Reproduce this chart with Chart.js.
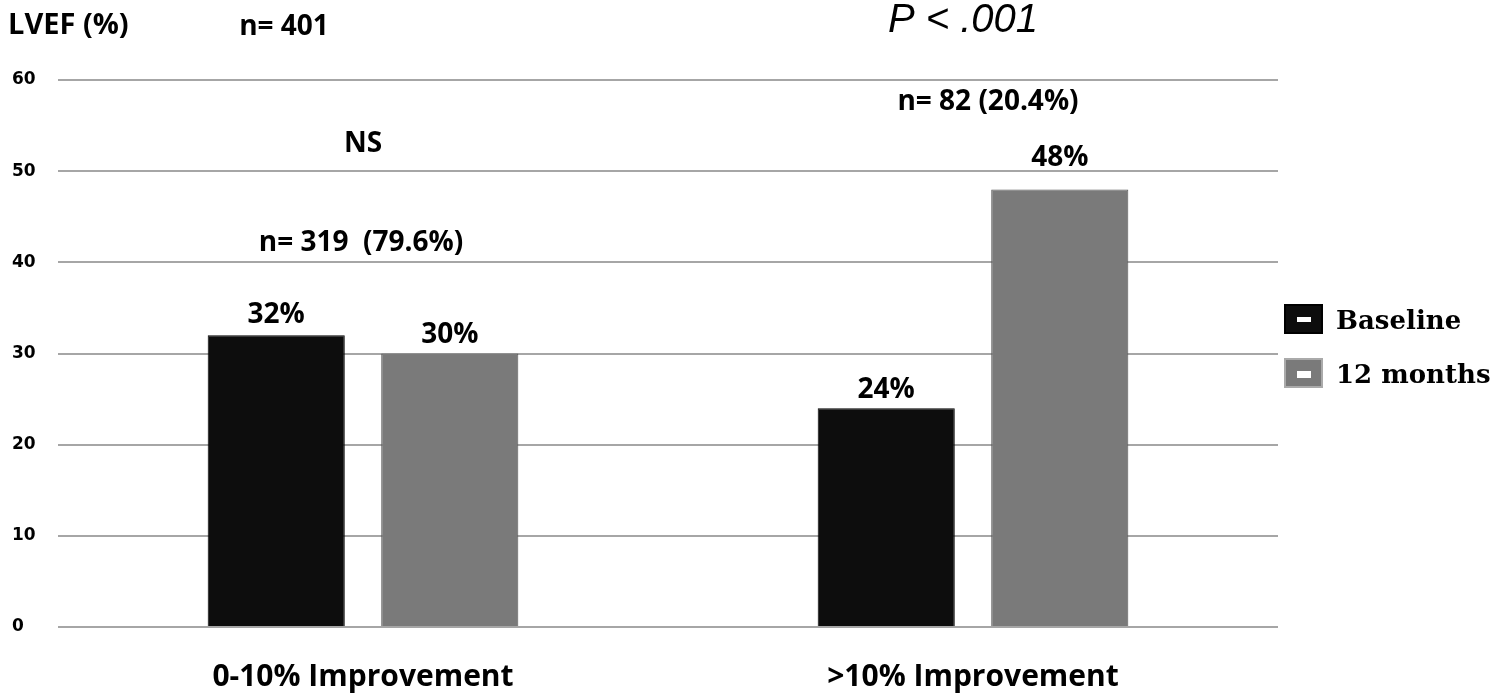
<!DOCTYPE html>
<html><head><meta charset="utf-8">
<script src="https://cdn.jsdelivr.net/npm/chart.js@4.4.0/dist/chart.umd.min.js"></script>
<style>html,body{margin:0;padding:0;background:#fff}#wrap{width:1496px;height:696px;position:relative}</style>
</head><body><div id="wrap"><canvas id="c" width="1496" height="696"></canvas></div>
<script>
const categories = ['0-10% Improvement', '>10% Improvement'];
const seriesNames = ['Baseline', '12 months'];
const baselineValues = [32, 24];
const monthValues = [30, 48];
const yTickValues = [0, 10, 20, 30, 40, 50, 60];
const groupSizes = ['n= 319  (79.6%)', 'n= 82 (20.4%)'];
const groupTests = ['NS', 'P < .001'];
const totalN = 'n= 401';
const yTitle = 'LVEF (%)';

const SANS = '"Open Sans", "DejaVu Sans", sans-serif';
const SERIF = '"DejaVu Serif", serif';

const annotate = {
  id: 'annotate',
  afterDatasetsDraw(chart) {
    const ctx = chart.ctx;
    const x = chart.scales.x;
    const ca = chart.chartArea;
    ctx.save();
    ctx.fillStyle = '#000';
    ctx.textBaseline = 'alphabetic';
    // value labels
    const gaps = [[12, 11], [10, 23]];
    chart.data.datasets.forEach((ds, di) => {
      const meta = chart.getDatasetMeta(di);
      meta.data.forEach((bar, i) => {
        ctx.font = '700 28px ' + SANS;
        ctx.textAlign = 'center';
        ctx.fillText(ds.data[i] + '%', bar.x, bar.y - gaps[i][di]);
      });
    });
    // group annotations
    ctx.font = '700 28px ' + SANS;
    ctx.textAlign = 'center';
    ctx.fillText(groupSizes[0], x.getPixelForValue(0) - 2, 251);
    ctx.fillText(groupTests[0], x.getPixelForValue(0), 152);
    ctx.fillText(groupSizes[1], x.getPixelForValue(1) + 15, 110);
    ctx.font = 'italic 40px "Liberation Sans", Arial, sans-serif';
    ctx.fillText(groupTests[1], x.getPixelForValue(1) - 10, 32);
    // top-left texts
    ctx.font = '700 29px ' + SANS;
    ctx.textAlign = 'left';
    ctx.fillText(yTitle, 8, 34);
    ctx.textAlign = 'center';
    ctx.font = '700 28px ' + SANS;
    ctx.fillText(totalN, 284, 35);
    // legend
    const lx = ca.right + 6;
    const rows = [308, 362];
    chart.data.datasets.forEach((ds, di) => {
      const top = rows[di] - 4;
      ctx.fillStyle = ds.backgroundColor;
      ctx.fillRect(lx, top, 39, 30);
      ctx.strokeStyle = di === 0 ? '#000' : '#aaaaaa';
      ctx.lineWidth = 2;
      ctx.strokeRect(lx + 1, top + 1, 37, 28);
      ctx.fillStyle = '#fff';
      ctx.fillRect(lx + 13, top + 13, 14, di === 0 ? 5 : 7);
      ctx.fillStyle = '#000';
      ctx.font = 'bold 26px ' + SERIF;
      ctx.textAlign = 'left';
      ctx.fillText(ds.label, lx + 52, top + 25);
    });
    ctx.restore();
  }
};

new Chart(document.getElementById('c'), {
  type: 'bar',
  data: {
    labels: categories,
    datasets: [
      { label: seriesNames[0], data: baselineValues, backgroundColor: '#0d0d0d', borderColor: '#000000', borderWidth: 1 },
      { label: seriesNames[1], data: monthValues, backgroundColor: '#7a7a7a', borderColor: '#555555', borderWidth: 1 }
    ]
  },
  options: {
    responsive: false,
    animation: false,
    devicePixelRatio: 1,
    layout: { padding: { top: 80, right: 218, bottom: 0, left: 12 } },
    datasets: { bar: { categoryPercentage: 0.569, barPercentage: 0.79 } },
    plugins: { legend: { display: false }, tooltip: { enabled: false }, title: { display: false } },
    scales: {
      x: {
        grid: { display: false },
        border: { display: false },
        ticks: { color: '#000', font: { family: SANS, size: 30, weight: '700' }, padding: 24 },
        afterFit(s) { s.height = 69; }
      },
      y: {
        min: 0, max: 60,
        afterBuildTicks(s) { s.ticks = yTickValues.map(v => ({ value: v })); },
        grid: { color: '#a6a6a6', lineWidth: 2, drawTicks: false },
        border: { display: false },
        ticks: { color: '#000', crossAlign: 'far', font: { family: '"DejaVu Sans", sans-serif', size: 17, weight: 'bold' }, padding: 10 },
        afterFit(s) { s.width = 46; }
      }
    }
  },
  plugins: [annotate]
});
</script>
</body></html>
